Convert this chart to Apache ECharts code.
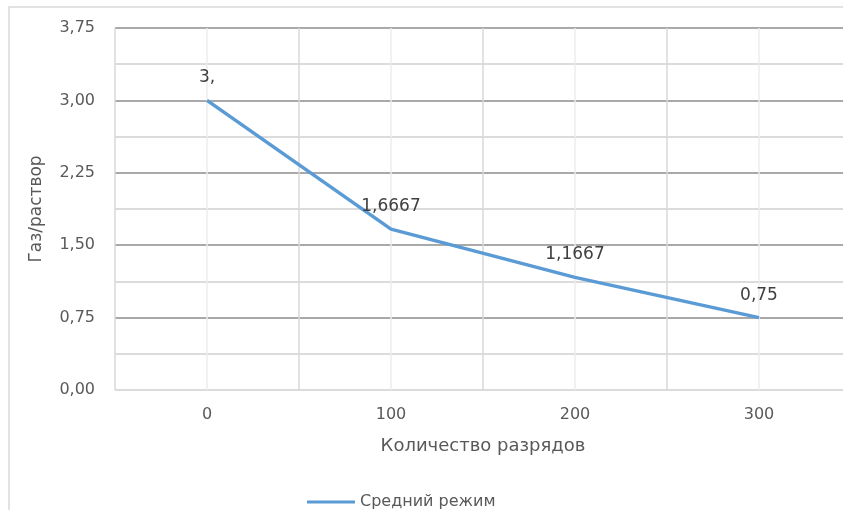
<!DOCTYPE html>
<html>
<head>
<meta charset="utf-8">
<script src="https://cdn.jsdelivr.net/npm/echarts@6/dist/echarts.min.js"></script>
<style>
  html, body { margin: 0; padding: 0; background: #fff; }
  #chart { width: 843px; height: 510px; }
</style>
</head>
<body>
<div id="chart"></div>
<script>
// data
var discharges = [0, 100, 200, 300];
var gasRatio = [3, 1.6667, 1.1667, 0.75];
var pointLabels = ["3,", "1,6667", "1,1667", "0,75"];
var seriesName = "Средний режим";
var xTitle = "Количество разрядов";
var yTitle = "Газ/раствор";

var chart = echarts.init(document.getElementById("chart"));

var major = "#8c8c8c";
var minor = "#cfcfcf";
var fontFamily = "'DejaVu Sans', sans-serif";

var option = {
  animation: false,
  textStyle: { fontFamily: fontFamily },
  graphic: [
    {
      type: "rect",
      shape: { x: 9, y: 7, width: 900, height: 600 },
      style: { fill: null, stroke: "#d9d9d9", lineWidth: 1.5 },
      z: -10
    }
  ],
  grid: {
    left: 115,
    right: -8,
    top: 28,
    bottom: 120,
    outerBoundsMode: "none"
  },
  legend: {
    data: [seriesName],
    left: 302,
    top: 489,
    icon: "rect",
    itemWidth: 48,
    itemHeight: 3,
    itemGap: 4,
    textStyle: { color: "#595959", fontSize: 16, fontFamily: fontFamily }
  },
  xAxis: {
    type: "value",
    min: -50,
    max: 350,
    interval: 50,
    name: xTitle,
    nameLocation: "middle",
    nameGap: 47,
    nameTextStyle: { color: "#595959", fontSize: 18 },
    axisLine: { show: false },
    axisTick: { show: false },
    axisLabel: {
      color: "#595959",
      fontSize: 16,
      margin: 17,
      formatter: function (v) {
        return v >= 0 && v % 100 === 0 ? String(v) : "";
      }
    },
    splitLine: {
      show: true,
      lineStyle: { color: ["#d9d9d9", "#ededed"], width: 1.5 }
    }
  },
  yAxis: {
    type: "value",
    min: 0,
    max: 3.75,
    interval: 0.375,
    name: yTitle,
    nameLocation: "middle",
    nameGap: 70,
    nameTextStyle: { color: "#595959", fontSize: 17 },
    axisLine: { show: false },
    axisTick: { show: false },
    axisLabel: {
      color: "#595959",
      fontSize: 16,
      margin: 20,
      formatter: function (v, i) {
        return i % 2 === 0 ? v.toFixed(2).replace(".", ",") : "";
      }
    },
    splitLine: {
      show: true,
      lineStyle: {
        color: [minor, minor, major, minor, major, minor, major, minor, major, minor, major],
        width: 1.5
      }
    }
  },
  series: [
    {
      name: seriesName,
      type: "line",
      data: discharges.map(function (x, i) {
        return [x, gasRatio[i]];
      }),
      symbol: "circle",
      symbolSize: 0,
      showSymbol: true,
      lineStyle: { color: "#5b9bd5", width: 3.5 },
      itemStyle: { color: "#5b9bd5" },
      label: {
        show: true,
        position: "top",
        distance: 14,
        color: "#404040",
        fontSize: 17,
        formatter: function (p) {
          return pointLabels[p.dataIndex];
        }
      }
    }
  ]
};

chart.setOption(option);
</script>
</body>
</html>
